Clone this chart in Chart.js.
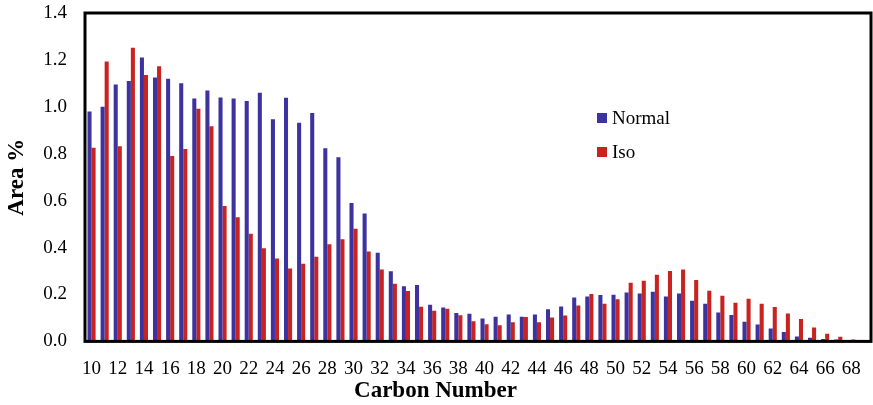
<!DOCTYPE html>
<html>
<head>
<meta charset="utf-8">
<script src="https://cdn.jsdelivr.net/npm/chart.js@4/dist/chart.umd.min.js"></script>
<style>
  body { margin: 0; background: #fff; }
  #wrap { width: 873px; height: 405px; position: relative; }
</style>
</head>
<body>
<div id="wrap"><canvas id="myChart"></canvas></div>
<script>
//data
var carbon = [10, 11, 12, 13, 14, 15, 16, 17, 18, 19, 20, 21, 22, 23, 24, 25, 26, 27, 28, 29,
  30, 31, 32, 33, 34, 35, 36, 37, 38, 39, 40, 41, 42, 43, 44, 45, 46, 47, 48, 49,
  50, 51, 52, 53, 54, 55, 56, 57, 58, 59, 60, 61, 62, 63, 64, 65, 66, 67, 68, 69]
var normal = [0.98, 1.00, 1.095, 1.11, 1.21, 1.125, 1.12, 1.10, 1.035, 1.07, 1.04, 1.035, 1.025, 1.06, 0.947, 1.039, 0.932, 0.974, 0.823, 0.785,
  0.59, 0.545, 0.378, 0.299, 0.235, 0.24, 0.156, 0.145, 0.121, 0.118, 0.098, 0.105, 0.115, 0.105, 0.115, 0.137, 0.149, 0.187, 0.191, 0.198,
  0.199, 0.208, 0.204, 0.212, 0.191, 0.204, 0.173, 0.16, 0.123, 0.113, 0.084, 0.072, 0.055, 0.04, 0.021, 0.016, 0.01, 0.008, 0.006, 0.0]
var iso = [0.826, 1.193, 0.832, 1.252, 1.136, 1.173, 0.79, 0.82, 0.992, 0.917, 0.577, 0.529, 0.459, 0.397, 0.353, 0.311, 0.331, 0.361, 0.414, 0.435,
  0.48, 0.383, 0.306, 0.246, 0.215, 0.148, 0.131, 0.139, 0.111, 0.086, 0.073, 0.069, 0.082, 0.104, 0.082, 0.102, 0.110, 0.153, 0.202, 0.16,
  0.18, 0.25, 0.259, 0.284, 0.30, 0.307, 0.262, 0.216, 0.195, 0.165, 0.182, 0.16, 0.147, 0.119, 0.096, 0.059, 0.033, 0.02, 0.008, 0.004]
var yTicks = [0.0, 0.2, 0.4, 0.6, 0.8, 1.0, 1.2, 1.4]

var serif = '"Liberation Serif", "Times New Roman", serif'
var blue = 'rgb(60, 50, 160)'
var red = 'rgb(200, 35, 30)'

//frame round the plot and the legend inside it
var framePlugin = {
  id: 'frame',
  afterDraw: function (chart) {
    var ctx = chart.ctx
    var a = chart.chartArea
    ctx.save()
    ctx.strokeStyle = '#000'
    ctx.lineWidth = 3
    ctx.strokeRect(a.left, a.top, a.right - a.left, a.bottom - a.top)

    var lx = 597, ly = 118
    ctx.font = '19px ' + serif
    ctx.textBaseline = 'middle'
    chart.data.datasets.forEach(function (ds, i) {
      var y = ly + i * 34
      ctx.fillStyle = ds.backgroundColor
      ctx.fillRect(lx, y - 5, 10, 10)
      ctx.fillStyle = '#000'
      ctx.fillText(ds.label, lx + 15, y + 1)
    })
    ctx.restore()
  }
}

//no extra room for edge labels, the layout padding decides the plot box
function noEdgePad(scale) {
  scale.paddingTop = 0
  scale.paddingBottom = 0
  scale.paddingLeft = 0
  scale.paddingRight = 0
}

var ctx = document.getElementById('myChart')
var myChart = new Chart(ctx, {
  type: 'bar',
  data: {
    labels: carbon,
    datasets: [
      { label: 'Normal', data: normal, backgroundColor: blue, categoryPercentage: 0.62, barPercentage: 1 },
      { label: 'Iso', data: iso, backgroundColor: red, categoryPercentage: 0.62, barPercentage: 1 }
    ]
  },
  options: {
    responsive: true,
    maintainAspectRatio: false,
    animation: false,
    layout: { padding: { top: 13, right: 2, left: 0, bottom: 0 } },
    plugins: {
      legend: { display: false },
      tooltip: { enabled: false },
      //x axis title sits centred on the whole picture, not on the plot
      title: {
        display: true,
        position: 'bottom',
        text: 'Carbon Number',
        color: '#000',
        font: { family: serif, size: 23, weight: 'bold', lineHeight: 1.2 },
        padding: { top: 0, bottom: 0 }
      }
    },
    scales: {
      x: {
        grid: { display: false, drawTicks: false },
        border: { display: false },
        ticks: {
          autoSkip: false,
          maxRotation: 0,
          padding: 16,
          color: '#000',
          font: { family: serif, size: 19 },
          callback: function (v, i) { return i % 2 == 0 ? carbon[i] : '' }
        },
        afterFit: function (scale) {
          scale.height = 36
          noEdgePad(scale)
        }
      },
      y: {
        min: 0,
        max: 1.4,
        grid: { display: false, drawTicks: false },
        border: { display: false },
        afterBuildTicks: function (scale) {
          scale.ticks = yTicks.map(function (v) { return { value: v } })
        },
        ticks: {
          padding: 18,
          color: '#000',
          font: { family: serif, size: 19 },
          callback: function (v) { return v.toFixed(1) }
        },
        title: {
          display: true,
          text: 'Area %',
          color: '#000',
          font: { family: serif, size: 23, weight: 'bold' },
          padding: { top: 3, bottom: 0 }
        },
        afterFit: function (scale) {
          scale.width = 85
          noEdgePad(scale)
        }
      }
    }
  },
  plugins: [framePlugin]
})
</script>
</body>
</html>
